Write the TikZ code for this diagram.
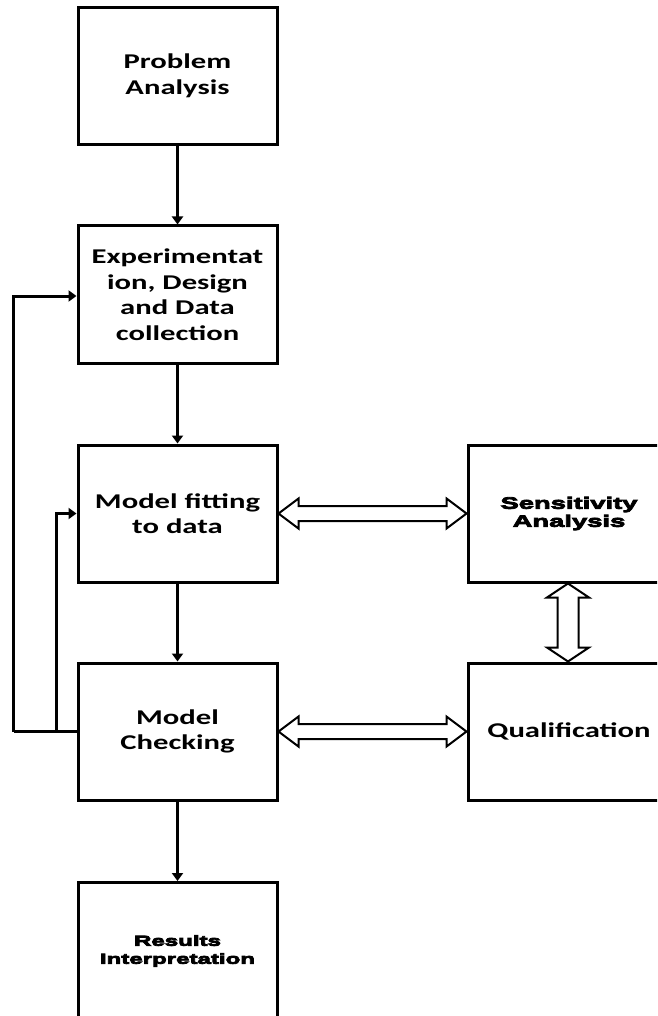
\documentclass[tikz,border=0pt]{standalone}
\usepackage{fontspec}
\setmainfont{Carlito}[FakeStretch=1.46]
\newfontfamily\heavyfont{Liberation Sans}[FakeStretch=1.66]
% filled and stroked glyphs for an extra-heavy face
\newcommand\inked[1]{\special{pdf:literal direct 2 Tr 0.8 w}#1\special{pdf:literal direct 0 Tr}}
\usetikzlibrary{arrows.meta,calc}
\begin{document}
\begin{tikzpicture}[x=1pt,y=-1pt,
  stage/.style={draw, line width=3pt, rectangle, minimum width=199pt, minimum height=137pt,
    inner sep=0pt, align=center, font=\fontsize{21}{25.5}\selectfont\bfseries},
  heavystage/.style={stage, font=\fontsize{16.5}{18}\selectfont\heavyfont\bfseries},
  flow/.style={line width=3pt, -{Triangle[length=8pt,width=11pt]}},
  feedback/.style={line width=3pt},
  hollow/.style={draw, line width=2pt, line join=miter, fill=white}]
\useasboundingbox (0,0) rectangle (657,1016);
\clip (0,0) rectangle (657,1016);

% main column of stages
\node[stage] (prob) at (177.5,76)    {Problem\\Analysis};
\node[stage] (exp)  at (177.5,294.5) {Experimentat\\ion, Design\\and Data\\collection};
\node[stage] (fit)  at (177.5,513.5) {Model fitting\\to data};
\node[stage] (chk)  at (177.5,731.5) {Model\\Checking};
\node[heavystage, font=\fontsize{14.5}{18}\selectfont\heavyfont\bfseries] (res) at (177.5,951)
  {\inked{Results}\\\inked{Interpretation}};

% side stages
\node[heavystage, minimum width=202pt] (sens) at (569,513.5) {\inked{Sensitivity}\\\inked{Analysis}};
\node[stage, minimum width=202pt] (qual) at (569,731.5) {Qualification};

% downward flow
\draw[flow] (prob.south) -- (exp.north);
\draw[flow] (exp.south) -- (fit.north);
\draw[flow] (fit.south) -- (chk.north);
\draw[flow] (chk.south) -- (res.north);

% feedback loops from model checking
\coordinate (outer) at ($(chk.west)+(-63,0)$);
\coordinate (inner) at ($(chk.west)+(-20,0)$);
\draw[feedback] (chk.west) -- (outer);
\draw[flow] (outer) |- ($(exp.west)+(0,1.5)$);
\draw[flow] (inner) |- (fit.west);

% hollow two-way arrows
\draw[hollow] (fit.east) -- ++(20,-15) -- ++(0,7.5) -- ($(sens.west)+(-20,-7.5)$) -- ++(0,-7.5)
  -- (sens.west) -- ++(-20,15) -- ++(0,-7.5) -- ($(fit.east)+(20,7.5)$) -- ++(0,7.5) -- cycle;
\draw[hollow] (chk.east) -- ++(20,-15) -- ++(0,7.5) -- ($(qual.west)+(-20,-7.5)$) -- ++(0,-7.5)
  -- (qual.west) -- ++(-20,15) -- ++(0,-7.5) -- ($(chk.east)+(20,7.5)$) -- ++(0,7.5) -- cycle;
\draw[hollow] ($(sens.south)+(-1,0)$) -- ++(21,14) -- ++(-10.5,0) -- ($(qual.north)+(9.5,-14)$) -- ++(10.5,0)
  -- ($(qual.north)+(-1,0)$) -- ++(-21,-14) -- ++(10.5,0) -- ($(sens.south)+(-11.5,14)$) -- ++(-10.5,0) -- cycle;
\end{tikzpicture}
\end{document}
